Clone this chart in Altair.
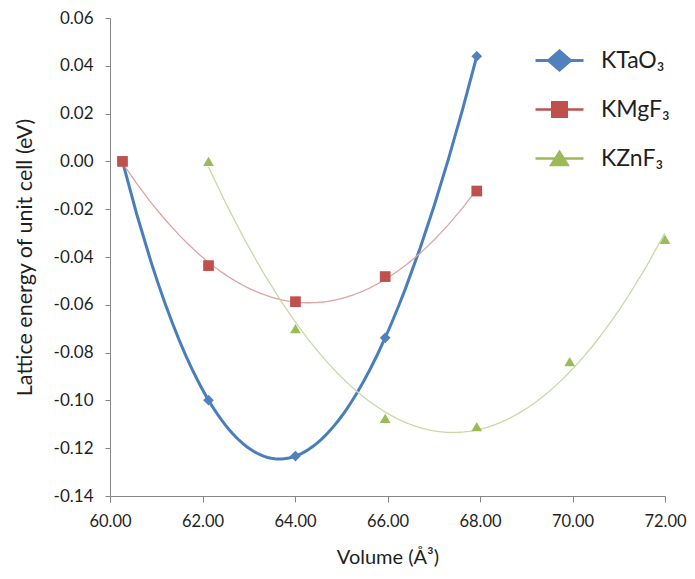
import altair as alt
import pandas as pd

# ---- data ----
series_names = ["KTaO₃", "KMgF₃", "KZnF₃"]
series_colors = ["#4f81bd", "#c0504d", "#9bbb59"]
line_colors = ["#4a7ebb", "#dfa3a2", "#c8d9a6"]

x_ktao = [60.27, 62.13, 64.01, 65.95, 67.93]
y_ktao = [0.0, -0.0999, -0.1233, -0.0738, 0.044]
x_kmg = [60.27, 62.13, 64.01, 65.95, 67.93]
y_kmg = [0.0, -0.0436, -0.0587, -0.0482, -0.0124]
x_kzn = [62.13, 64.01, 65.95, 67.93, 69.94, 72.0]
y_kzn = [0.0, -0.0700, -0.1075, -0.1110, -0.0838, -0.0326]

x_ticks = [60, 62, 64, 66, 68, 70, 72]
y_ticks = [-0.14, -0.12, -0.10, -0.08, -0.06, -0.04, -0.02, 0.0, 0.02, 0.04, 0.06]

rows = []
for name, xs, ys in zip(series_names, [x_ktao, x_kmg, x_kzn], [y_ktao, y_kmg, y_kzn]):
    for xv, yv in zip(xs, ys):
        rows.append({"series": name, "volume": xv, "energy": yv})
df = pd.DataFrame(rows)

FONT = "Lato"
TXT = "#1f1f1f"
AX = "#868686"

x_enc = alt.X(
    "volume:Q",
    scale=alt.Scale(domain=[60, 72], nice=False, zero=False),
    axis=alt.Axis(
        values=x_ticks, format=".2f", title="Volume (Å³)", grid=False,
        domainColor=AX, tickColor=AX, tickSize=6, labelPadding=11,
        labelFontSize=16.5, titleFontSize=20, titlePadding=18,
        labelColor=TXT, titleColor=TXT, labelFont=FONT, titleFont=FONT,
        titleFontWeight="normal", labelFlush=False,
    ),
)
y_enc = alt.Y(
    "energy:Q",
    scale=alt.Scale(domain=[-0.14, 0.06], nice=False, zero=False),
    axis=alt.Axis(
        values=y_ticks, grid=False, title="Lattice energy of unit cell (eV)",
        labelExpr="(datum.value < -0.0001 ? '-' : '') + format(abs(datum.value), '.2f')",
        domainColor=AX, tickColor=AX, tickSize=5, labelPadding=12,
        labelFontSize=17, titleFontSize=21.5, titlePadding=17,
        labelColor=TXT, titleColor=TXT, labelFont=FONT, titleFont=FONT,
        titleFontWeight="normal",
    ),
)

base = alt.Chart(df)

orders = [4, 2, 2]
widths = [3, 1.3, 1.3]
line_layers = []
for name, col, order, w in zip(series_names, line_colors, orders, widths):
    line_layers.append(
        base.transform_filter(alt.datum.series == name)
        .transform_regression("volume", "energy", method="poly", order=order)
        .mark_line(color=col, strokeWidth=w, clip=True)
        .encode(x=x_enc, y=y_enc)
    )

points = base.mark_point(filled=True, opacity=1, size=115).encode(
    x=x_enc,
    y=y_enc,
    color=alt.Color("series:N", scale=alt.Scale(domain=series_names, range=series_colors), legend=None),
    shape=alt.Shape("series:N", scale=alt.Scale(domain=series_names, range=["diamond", "square", "triangle-up"]), legend=None),
)

legend_paths = [
    "M-2.4,-0.15L-1.15,-0.15L0,-1.15L1.15,-0.15L2.4,-0.15L2.4,0.15L1.15,0.15L0,1.15L-1.15,0.15L-2.4,0.15Z",
    "M-2.4,-0.13L-0.85,-0.13L-0.85,-0.85L0.85,-0.85L0.85,-0.13L2.4,-0.13L2.4,0.13L0.85,0.13L0.85,0.85L-0.85,0.85L-0.85,0.13L-2.4,0.13Z",
    "M-2.4,-0.13L-0.484,-0.13L0,-0.9L0.484,-0.13L2.4,-0.13L2.4,0.13L0.647,0.13L1.05,0.77L-1.05,0.77L-0.647,0.13L-2.4,0.13Z",
]
leg = dict(
    title=None, orient="none", legendX=438, legendY=31, symbolSize=400,
    symbolOffset=0, labelOffset=30, labelFontSize=23, labelFont=FONT,
    labelColor=TXT, rowPadding=25, padding=0, symbolStrokeWidth=0,
)
legend_layer = base.transform_filter("false").mark_point(filled=True, opacity=1, size=400).encode(
    x=x_enc,
    y=y_enc,
    color=alt.Color("series:N", scale=alt.Scale(domain=series_names, range=series_colors), legend=alt.Legend(**leg)),
    shape=alt.Shape("series:N", scale=alt.Scale(domain=series_names, range=legend_paths), legend=alt.Legend(**leg)),
)

main = alt.layer(*line_layers, points)
chart = (
    alt.layer(main, legend_layer)
    .resolve_scale(color="independent", shape="independent")
    .properties(
        width=555, height=478,
        autosize=alt.AutoSizeParams(type="none"),
        padding={"left": 102, "top": 10, "right": 22, "bottom": 75},
        background="white",
    )
    .configure_view(stroke=None)
)

chart.save("out.html", embed_options={"renderer": "svg", "actions": False})
